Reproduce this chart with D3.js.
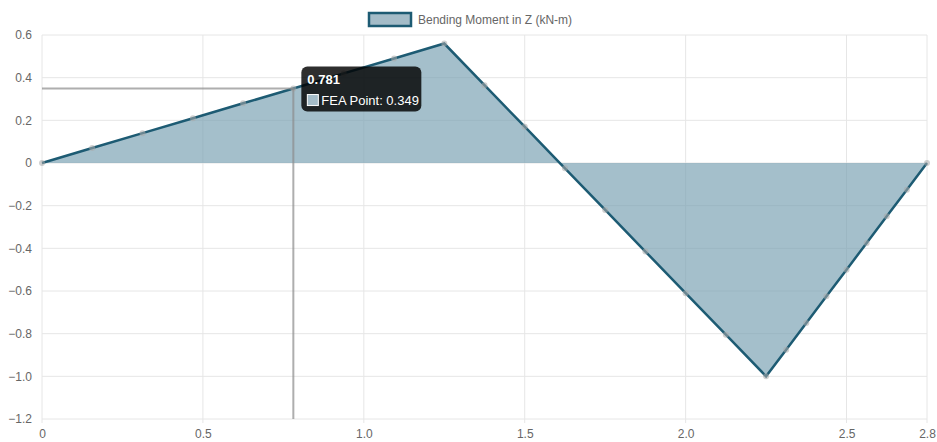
<!DOCTYPE html>
<html lang="en">
<head>
<meta charset="UTF-8">
<script src="https://d3js.org/d3.v7.min.js"></script>
<title>Bending Moment</title>
<style>
  body { margin: 0; background: #fff; }
  text { font-family: "Liberation Sans", Arial, Helvetica, sans-serif; }
</style>
</head>
<body>
<div id="chart"></div>
<script>
// data
var seriesName = "Bending Moment in Z (kN-m)";
var xVals = [0, 0.156, 0.3125, 0.469, 0.625, 0.781, 0.9375, 1.094, 1.25,
             1.375, 1.5, 1.625, 1.75, 1.875, 2.0, 2.125, 2.25,
             2.3125, 2.375, 2.4375, 2.5, 2.5625, 2.625, 2.6875, 2.75];
var yVals = [0, 0.07, 0.14, 0.21, 0.28, 0.349, 0.42, 0.49, 0.56,
             0.365, 0.17, -0.025, -0.22, -0.415, -0.61, -0.805, -1.0,
             -0.875, -0.75, -0.625, -0.5, -0.375, -0.25, -0.125, 0];
var xTicks = [0, 0.5, 1.0, 1.5, 2.0, 2.5, 2.75];
var xTickLabels = ["0", "0.5", "1.0", "1.5", "2.0", "2.5", "2.8"];
var yTicks = [0.6, 0.4, 0.2, 0, -0.2, -0.4, -0.6, -0.8, -1.0, -1.2];
var hoverIndex = 5;
var hoverLabel = "FEA Point";

var data = xVals.map(function(x, i) { return {x: x, y: yVals[i]}; });

var W = 937, H = 442;
var margin = {top: 35, right: 10, bottom: 23, left: 42};
var width = W - margin.left - margin.right,
    height = H - margin.top - margin.bottom;

var lineColor = "#1d5b73", fillColor = "rgba(121,160,178,0.68)";

var svg = d3.select("#chart").append("svg")
    .attr("width", W).attr("height", H);
var g = svg.append("g")
    .attr("transform", "translate(" + margin.left + "," + margin.top + ")");

var x = d3.scaleLinear().domain([0, 2.75]).range([0, width]);
var y = d3.scaleLinear().domain([-1.2, 0.6]).range([height, 0]);

// grid
g.append("g").selectAll("line").data(yTicks).enter().append("line")
    .attr("x1", 0).attr("x2", width)
    .attr("y1", function(d) { return y(d); }).attr("y2", function(d) { return y(d); })
    .attr("stroke", "#e6e6e6").attr("stroke-width", 1);
g.append("g").selectAll("line").data(xTicks).enter().append("line")
    .attr("y1", 0).attr("y2", height + 4)
    .attr("x1", function(d) { return x(d); }).attr("x2", function(d) { return x(d); })
    .attr("stroke", "#e6e6e6").attr("stroke-width", 1);

// axes labels
var yAxis = g.append("g")
    .call(d3.axisLeft(y).tickValues(yTicks).tickSize(0).tickPadding(10)
      .tickFormat(function(d) { return d === 0 ? "0" : d3.format(".1f")(d); }));
yAxis.select(".domain").remove();
yAxis.selectAll("text").attr("fill", "#666").style("font-size", "12px");

var xAxis = g.append("g")
    .attr("transform", "translate(0," + height + ")")
    .call(d3.axisBottom(x).tickValues(xTicks).tickSize(0).tickPadding(10)
      .tickFormat(function(d, i) { return xTickLabels[i]; }));
xAxis.select(".domain").remove();
xAxis.selectAll("text").attr("fill", "#666").style("font-size", "12px");

// area + line
g.append("path").datum(data)
    .attr("d", d3.area().x(function(d) { return x(d.x); })
      .y0(y(0)).y1(function(d) { return y(d.y); }))
    .attr("fill", fillColor);
g.append("path").datum(data)
    .attr("d", d3.line().x(function(d) { return x(d.x); }).y(function(d) { return y(d.y); }))
    .attr("fill", "none").attr("stroke", lineColor).attr("stroke-width", 2.5);

// points
g.append("g").selectAll("circle").data(data).enter().append("circle")
    .attr("cx", function(d) { return x(d.x); })
    .attr("cy", function(d) { return y(d.y); })
    .attr("r", 3)
    .attr("fill", "rgba(170,170,170,0.55)");

// crosshair at hovered point
var hp = data[hoverIndex];
g.append("line")
    .attr("x1", 0).attr("x2", x(hp.x))
    .attr("y1", y(hp.y)).attr("y2", y(hp.y))
    .attr("stroke", "rgba(140,140,140,0.7)").attr("stroke-width", 2);
g.append("line")
    .attr("x1", x(hp.x)).attr("x2", x(hp.x))
    .attr("y1", y(hp.y)).attr("y2", height)
    .attr("stroke", "rgba(140,140,140,0.7)").attr("stroke-width", 2);

// tooltip
var tx = x(hp.x) + 8, ty = y(hp.y) - 22;
var tip = g.append("g").attr("transform", "translate(" + tx + "," + ty + ")");
tip.append("rect").attr("width", 120).attr("height", 45).attr("rx", 6)
    .attr("fill", "rgba(0,0,0,0.82)");
tip.append("text").attr("x", 6).attr("y", 17)
    .attr("fill", "#fff").style("font-size", "13px").style("font-weight", "bold")
    .text(d3.format(".3f")(hp.x));
tip.append("rect").attr("x", 6).attr("y", 28).attr("width", 11).attr("height", 11)
    .attr("fill", "#a4bcc8").attr("stroke", "#fff").attr("stroke-width", 1);
tip.append("text").attr("x", 20).attr("y", 38)
    .attr("fill", "#fff").style("font-size", "13px")
    .text(hoverLabel + ": " + hp.y);

// legend
var lg = svg.append("g").attr("transform", "translate(369,13)");
lg.append("rect").attr("width", 42).attr("height", 13)
    .attr("fill", "#a4bcc8").attr("stroke", lineColor).attr("stroke-width", 2.5);
lg.append("text").attr("x", 49).attr("y", 11)
    .attr("fill", "#666").style("font-size", "12px")
    .text(seriesName);
</script>
</body>
</html>
